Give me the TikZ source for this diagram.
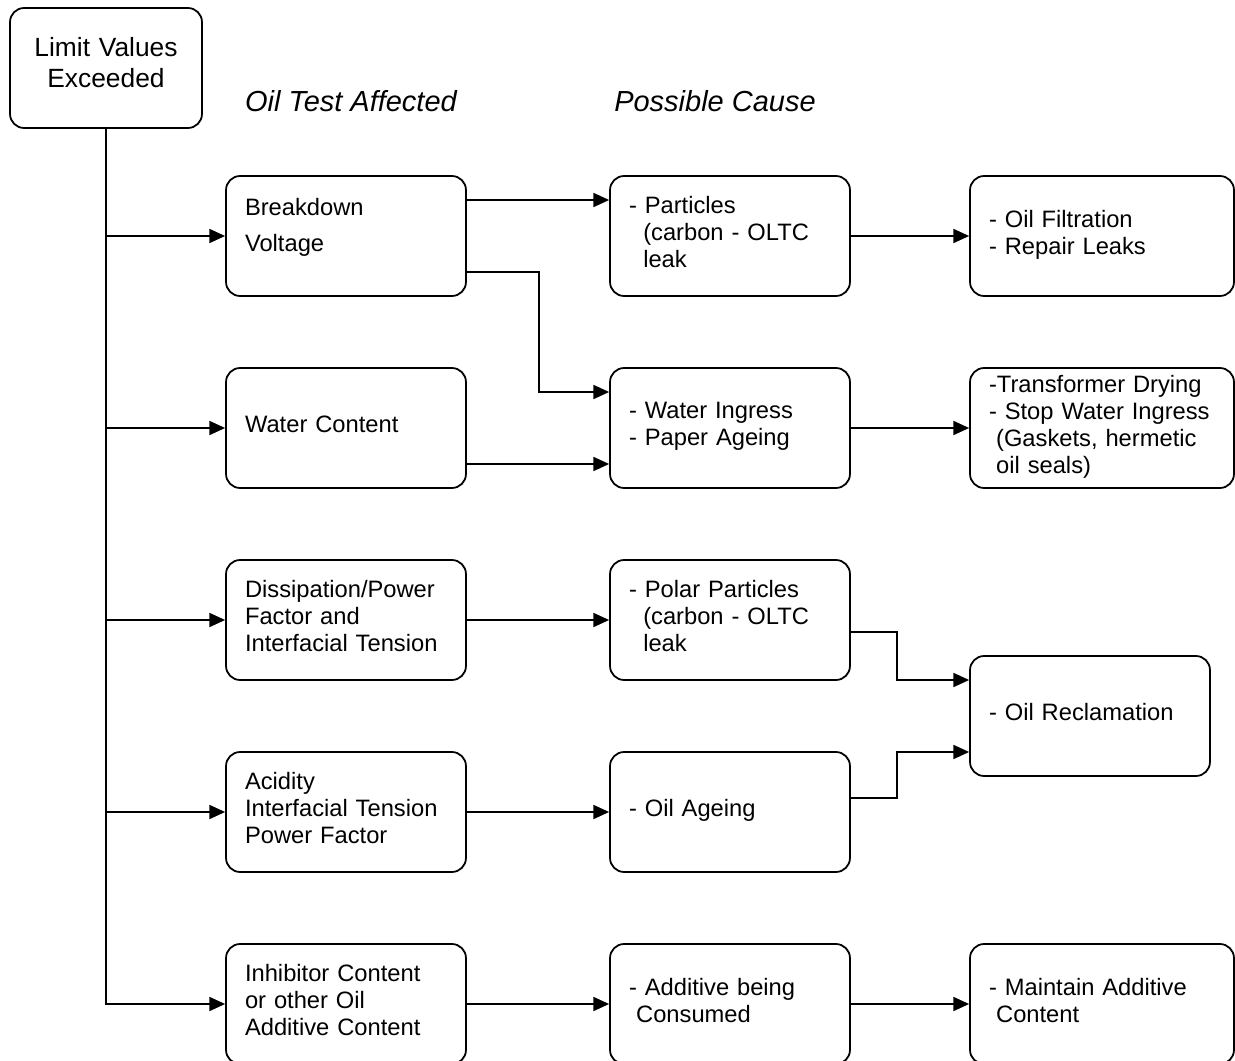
\documentclass[tikz,border=0pt]{standalone}
\usepackage{fontspec}
\setmainfont{Liberation Sans}
\usetikzlibrary{arrows.meta}

\begin{document}
\begin{tikzpicture}[->, >={Triangle[length=9pt,width=8pt]}, x=0.02cm, y=-0.02cm, line width=1pt,
    box/.style = {draw, rounded corners=8pt, minimum width=4.8cm, minimum height=2.4cm,
                  inner xsep=0.38cm, inner ysep=0pt, text width=4.04cm,
                  align=left, font=\fontsize{13.5}{15.4}\selectfont,
                  execute at end node={\\[-11pt]\mbox{}}},
    wide/.style = {box, minimum width=5.28cm, text width=4.52cm},
    head/.style = {anchor=base, font=\fontsize{16.5}{19}\selectfont\itshape}]
    \useasboundingbox (0,0) rectangle (1235,1061);

    % Nodes

    \node[box, minimum width=3.84cm, text width=3.08cm, align=center,
          font=\fontsize{15}{17.6}\selectfont] (1) at (106,68) {Limit Values\\Exceeded};

    \node[head] (h1) at (351,112) {Oil Test Affected};
    \node[head] (h2) at (715,112) {Possible Cause};

    \node[box, execute at end node={\\[-7.3pt]\mbox{}}] (2) at (346,236) {Breakdown\\[5pt]Voltage};
    \node[box] (3) at (346,428) {Water Content};
    \node[box] (4) at (346,620) {Dissipation/Power\\Factor and\\Interfacial Tension};
    \node[box] (5) at (346,812) {Acidity\\Interfacial Tension\\Power Factor};
    \node[box] (6) at (346,1004) {Inhibitor Content\\or other Oil\\Additive Content};

    \node[box] (7) at (730,236) {- Particles\\\hspace*{0.6em}(carbon - OLTC\\\hspace*{0.6em}leak};
    \node[box] (8) at (730,428) {- Water Ingress\\- Paper Ageing};
    \node[box] (9) at (730,620) {- Polar Particles\\\hspace*{0.6em}(carbon - OLTC\\\hspace*{0.6em}leak};
    \node[box] (10) at (730,812) {- Oil Ageing};
    \node[box] (11) at (730,1004) {- Additive being\\\hspace*{0.3em}Consumed};

    \node[wide] (12) at (1102,236) {- Oil Filtration\\- Repair Leaks};
    \node[wide] (13) at (1102,428) {-Transformer Drying\\- Stop Water Ingress\\\hspace*{0.3em}(Gaskets, hermetic\\\hspace*{0.3em}oil seals)};
    \node[box] (14) at (1090,716) {- Oil Reclamation};
    \node[wide] (15) at (1102,1004) {- Maintain Additive\\\hspace*{0.3em}Content};

    % Edges

    \draw (1.south) |- (6.west);
    \draw (1.south |- 2.west) -- (2.west);
    \draw (1.south |- 3.west) -- (3.west);
    \draw (1.south |- 4.west) -- (4.west);
    \draw (1.south |- 5.west) -- (5.west);

    \draw ([yshift=0.72cm]2.east) -- ([yshift=0.72cm]7.west);
    \draw ([yshift=-0.72cm]2.east) -| ([xshift=-1.4cm,yshift=0.72cm]8.west) -- ([yshift=0.72cm]8.west);
    \draw ([yshift=-0.72cm]3.east) -- ([yshift=-0.72cm]8.west);
    \draw (4) -- (9);
    \draw (5) -- (10);
    \draw (6) -- (11);

    \draw (7) -- (12);
    \draw (8) -- (13);
    \draw ([yshift=-0.24cm]9.east) -| ([xshift=-1.44cm,yshift=0.72cm]14.west) -- ([yshift=0.72cm]14.west);
    \draw ([yshift=0.28cm]10.east) -| ([xshift=-1.44cm,yshift=-0.72cm]14.west) -- ([yshift=-0.72cm]14.west);
    \draw (11) -- (15);

\end{tikzpicture}
\end{document}
